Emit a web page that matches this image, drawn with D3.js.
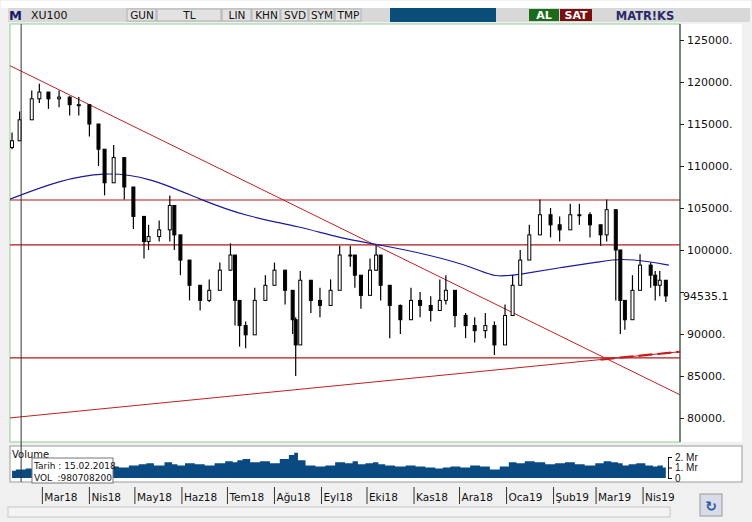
<!DOCTYPE html>
<html><head><meta charset="utf-8">
<script src="https://cdn.jsdelivr.net/npm/d3@7"></script>
<style>body{margin:0;background:#f0f0f0;font-family:Tahoma,"DejaVu Sans",sans-serif}</style>
</head><body><svg id="c" width="752" height="522"></svg>
<script>
// -------- DATA --------
const dates = ["2018-02-09","2018-02-14","2018-02-22","2018-02-27","2018-03-05","2018-03-12","2018-03-19","2018-03-25","2018-04-01","2018-04-07","2018-04-11","2018-04-17","2018-04-24","2018-04-30","2018-05-07","2018-05-10","2018-05-17","2018-05-24","2018-05-27","2018-05-31","2018-06-06","2018-06-13","2018-06-19","2018-06-26","2018-07-03","2018-07-06","2018-07-09","2018-07-13","2018-07-19","2018-07-26","2018-08-01","2018-08-08","2018-08-13","2018-08-15","2018-08-18","2018-08-25","2018-08-31","2018-09-07","2018-09-13","2018-09-20","2018-09-23","2018-09-27","2018-10-03","2018-10-07","2018-10-10","2018-10-16","2018-10-23","2018-10-30","2018-11-05","2018-11-12","2018-11-18","2018-11-22","2018-11-28","2018-12-05","2018-12-11","2018-12-18","2018-12-24","2018-12-31","2019-01-05","2019-01-10","2019-01-16","2019-01-23","2019-01-30","2019-02-05","2019-02-12","2019-02-18","2019-02-25","2019-03-04","2019-03-08","2019-03-14","2019-03-17","2019-03-20","2019-03-25","2019-03-30","2019-04-06","2019-04-09","2019-04-12","2019-04-16"];
const closes = [113000,115500,118000,118800,118000,118200,117300,117300,115000,112000,108000,111000,107500,104000,101000,101600,102400,105300,101800,98800,95800,94000,95200,97600,99400,94000,91000,89900,94000,95800,97600,95200,91700,88700,96400,94000,93400,95200,99400,99400,97000,94600,97600,99400,95800,93400,91700,94000,93400,92800,94000,95200,92200,91000,90400,91000,88700,92200,95800,98800,101800,104200,103000,102400,104200,104200,103000,101800,104800,100000,94000,91700,95200,98200,97000,95800,96400,94535];
const highs = [114000,116500,119000,119800,118800,119000,118300,118200,116000,113000,110500,112500,109000,105500,102500,103000,103500,106500,103000,100500,97000,95500,96500,98500,100800,96000,92500,91500,95500,97000,98500,97000,94000,92000,97500,95500,95500,96500,100500,100500,99000,96500,99000,100500,97500,95500,93500,95500,95000,94500,96500,97000,94000,92500,92000,92500,91500,93500,97000,100000,103000,106000,105000,104000,105500,105500,104500,103000,106000,102000,97000,93500,97000,99500,98500,97500,97500,96000];
const lows = [112000,114000,116500,117500,116800,117000,116000,116000,113500,110000,106500,109000,106000,102500,99000,100000,101000,101000,100000,97000,94000,92800,93800,96000,97500,91000,88500,88300,92000,94500,96000,93500,90000,85000,92000,92500,92000,93800,97500,98000,95500,93000,96000,97500,94000,89500,90000,92500,92000,91500,92800,93500,90800,89500,89000,89500,87500,90500,94000,97500,100500,102500,101500,101000,102500,103000,101500,100500,101000,94000,90000,90500,92000,96500,95500,94000,94500,93800];
const volumes = [0.7,0.8,0.9,0.7,0.8,0.9,1.0,0.9,1.1,1.0,1.2,1.1,1.0,1.2,1.3,1.4,1.2,1.5,1.3,1.2,1.4,1.3,1.2,1.4,1.6,1.5,1.7,1.8,1.5,1.6,1.4,1.8,2.2,2.4,1.7,1.2,1.1,1.2,1.5,1.4,1.6,1.3,1.4,1.5,1.3,1.2,1.1,1.2,1.1,1.0,0.9,1.0,1.1,1.0,1.2,1.1,0.8,1.1,1.5,1.4,1.6,1.5,1.3,1.4,1.5,1.3,1.2,1.4,1.6,1.5,1.4,1.2,1.3,1.4,1.2,1.1,1.2,1.0];
const maDates = ["2018-02-07","2018-03-12","2018-04-11","2018-05-10","2018-06-13","2018-07-13","2018-08-18","2018-09-13","2018-10-10","2018-11-12","2018-12-11","2018-12-24","2019-01-10","2019-02-05","2019-03-04","2019-03-17","2019-04-06","2019-04-18"];
const maValues = [106000,108300,109300,108700,106000,104000,102800,101400,100600,99400,97900,96700,97100,97900,98600,99000,98600,98200];
const hLevels = [105950, 100600, 87150];
const downTrend = [["2018-02-07",122000],["2019-04-26",82700]];
const upTrend = [["2018-02-07",80000],["2019-04-26",87900]];
const yTicks = [80000,85000,90000,95000,100000,105000,110000,115000,120000,125000];
const lastValue = 94535.1;
const monthLabels = ["Mar18","Nis18","May18","Haz18","Tem18","Ağu18","Eyl18","Eki18","Kas18","Ara18","Oca19","Şub19","Mar19","Nis19"];
const toolbarItems = ["GUN","TL","LIN","KHN","SVD","SYM","TMP"];

// -------- SETUP --------
const svg = d3.select("#c");
const pd = d3.timeParse("%Y-%m-%d");
const L = 10, R = 680, T = 24, B = 442;
const x = d3.scaleTime().domain([pd("2018-02-07"), pd("2019-04-26")]).range([9, 681]);
const y = d3.scaleLinear().domain([80000,125000]).range([418,40]);
const yv = d3.scaleLinear().domain([0,2]).range([478,457]);

// window frame
svg.append("rect").attr("x",0).attr("y",0).attr("width",752).attr("height",522).attr("fill","#f0f0f0");
svg.append("rect").attr("x",1).attr("y",1).attr("width",750).attr("height",7).attr("fill","#ffffff");
// toolbar
svg.append("rect").attr("x",8).attr("y",8).attr("width",742).attr("height",14).attr("fill","#d8d8d8");
svg.append("text").attr("x",9).attr("y",20).attr("font-size",13).attr("font-weight","bold").attr("fill","#1a1a6a").text("M");
svg.append("text").attr("x",31).attr("y",19).attr("font-size",11).attr("fill","#111").text("XU100");
const tbPos = [[127,157],[157,222],[222,252],[252,281],[281,309],[309,335],[335,362]];
toolbarItems.forEach((t,i) => {
  const [a,b] = tbPos[i];
  svg.append("rect").attr("x",a).attr("y",9).attr("width",b-a-1).attr("height",12).attr("fill","#e2e2e2").attr("stroke","#b0b0b0");
  svg.append("text").attr("x",(a+b)/2).attr("y",19).attr("text-anchor","middle").attr("font-size",10.5).attr("fill","#111").text(t);
});
svg.append("rect").attr("x",390).attr("y",8).attr("width",106).attr("height",14).attr("fill","#0a4d78");
svg.append("rect").attr("x",529).attr("y",9).attr("width",30).attr("height",12).attr("fill","#1b6b1b");
svg.append("text").attr("x",544).attr("y",19).attr("text-anchor","middle").attr("font-size",11).attr("font-weight","bold").attr("fill","#fff").text("AL");
svg.append("rect").attr("x",560).attr("y",9).attr("width",32).attr("height",12).attr("fill","#7a1010");
svg.append("text").attr("x",576).attr("y",19).attr("text-anchor","middle").attr("font-size",11).attr("font-weight","bold").attr("fill","#fff").text("SAT");
svg.append("text").attr("x",645).attr("y",20).attr("text-anchor","middle").attr("font-size",11.5).attr("font-weight","bold").attr("fill","#2a2a6a").text("MATR!KS");

// plot background + border
svg.append("rect").attr("x",L).attr("y",T).attr("width",742-L).attr("height",B-T).attr("fill","#fff");
svg.append("rect").attr("x",L).attr("y",T).attr("width",R-L).attr("height",B-T).attr("fill","none").attr("stroke","#8fd08f");
svg.append("rect").attr("x",L).attr("y",446).attr("width",742-L).attr("height",36).attr("fill","#fff").attr("stroke","#9a9a9a");
svg.append("line").attr("x1",R).attr("x2",R).attr("y1",T).attr("y2",B).attr("stroke","#222");

// y axis (95000 label hidden behind last value label, as in the source)
const ya = svg.append("g").attr("transform",`translate(${R},0)`)
  .call(d3.axisRight(y).tickValues(yTicks).tickSize(4).tickFormat(d => Math.abs(d - lastValue) < 1500 ? "" : d + "."));
ya.select(".domain").remove();
ya.selectAll("text").attr("font-size",11).attr("font-family","Tahoma,'DejaVu Sans',sans-serif").attr("fill","#111");
ya.selectAll("line").attr("stroke","#222");
svg.append("text").attr("x",R+3).attr("y",y(lastValue)+4).attr("font-size",11).attr("fill","#111").text(lastValue);

// red lines
svg.append("clipPath").attr("id","pc").append("rect").attr("x",L).attr("y",T).attr("width",R-L).attr("height",B-T);
const g = svg.append("g").attr("clip-path","url(#pc)");
hLevels.forEach(v => g.append("line").attr("x1",L).attr("x2",R).attr("y1",y(v)).attr("y2",y(v)).attr("stroke","#b01818").attr("stroke-width",1.2));
const ln = d3.line().x(d => x(pd(d[0]))).y(d => y(d[1]));
g.append("path").attr("d",ln(downTrend)).attr("stroke","#c02020").attr("fill","none");
g.append("path").attr("d",ln(upTrend)).attr("stroke","#c02020").attr("fill","none");
g.append("path").attr("d",ln([["2019-03-04",upTrend[0][1]+(upTrend[1][1]-upTrend[0][1])*(390/443)],upTrend[1]])).attr("stroke","#c02020").attr("stroke-width",2.2).attr("stroke-dasharray","14,5").attr("fill","none");

// moving average
g.append("path").datum(maDates.map((d,i)=>[d,maValues[i]]))
  .attr("d",d3.line().curve(d3.curveBasis).x(d=>x(pd(d[0]))).y(d=>y(d[1])))
  .attr("stroke","#1a1a9a").attr("fill","none").attr("stroke-width",1.2);

// candles
const candles = dates.map((d,i) => ({ t: pd(d), o: i ? closes[i-1] : closes[0]-800, c: closes[i], h: highs[i], l: lows[i] }));
const cg = g.append("g");
cg.selectAll("line").data(candles).enter().append("line")
  .attr("x1",d=>x(d.t)).attr("x2",d=>x(d.t)).attr("y1",d=>y(d.h)).attr("y2",d=>y(d.l)).attr("stroke","#000").attr("stroke-width",1.2);
cg.selectAll("rect").data(candles).enter().append("rect")
  .attr("x",d=>x(d.t)-1.5).attr("width",3)
  .attr("y",d=>y(Math.max(d.o,d.c))).attr("height",d=>Math.max(1,Math.abs(y(d.o)-y(d.c))))
  .attr("fill",d=>d.c>=d.o?"#fff":"#000").attr("stroke","#000");

// volume
svg.append("path").datum(dates.map((d,i)=>[pd(d),volumes[i]]))
  .attr("d",d3.area().curve(d3.curveStep).x(d=>x(d[0])).y0(yv(0)).y1(d=>yv(d[1])))
  .attr("fill","#0a4a82");
svg.append("text").attr("x",12).attr("y",458).attr("font-size",10).attr("fill","#111").text("Volume");
const va = svg.append("g").attr("transform",`translate(${R-12},0)`)
  .call(d3.axisRight(yv).tickValues([0,1,2]).tickSize(4).tickFormat(d => d ? d + ". Mr" : "0"));
va.select(".domain").attr("stroke","#222");
va.selectAll("text").attr("font-size",10).attr("fill","#111");

// cursor line + tooltip
const cx = x(pd("2018-02-15"));
svg.append("line").attr("x1",cx).attr("x2",cx).attr("y1",T).attr("y2",482).attr("stroke","#333");
svg.append("rect").attr("x",32).attr("y",458).attr("width",81).attr("height",25).attr("fill","#fff").attr("stroke","#777");
svg.append("text").attr("x",34).attr("y",469).attr("font-size",9).attr("fill","#111").text("Tarih : 15.02.2018");
svg.append("text").attr("x",34).attr("y",481).attr("font-size",9).attr("fill","#111").text("VOL");
svg.append("text").attr("x",112).attr("y",481).attr("text-anchor","end").attr("font-size",9).attr("fill","#111").text(":980708200");

// x axis months
const months = d3.timeMonth.range(pd("2018-03-01"), pd("2019-04-02"));
months.forEach((m,i) => {
  const px = x(m);
  svg.append("line").attr("x1",px).attr("x2",px).attr("y1",487).attr("y2",504).attr("stroke","#333");
  svg.append("text").attr("x",px+2).attr("y",501).attr("font-size",10.5).attr("fill","#111").text(monthLabels[i]);
});
// scrollbar
svg.append("rect").attr("x",8).attr("y",507).attr("width",662).attr("height",10).attr("fill","#f4f4f4").attr("stroke","#c8c8c8");
svg.append("rect").attr("x",700).attr("y",494).attr("width",22).attr("height",22).attr("fill","#d8dce8").attr("stroke","#999");
svg.append("text").attr("x",711).attr("y",511).attr("text-anchor","middle").attr("font-size",14).attr("font-weight","bold").attr("fill","#2a5aa0").text("↻");
</script></body></html>
